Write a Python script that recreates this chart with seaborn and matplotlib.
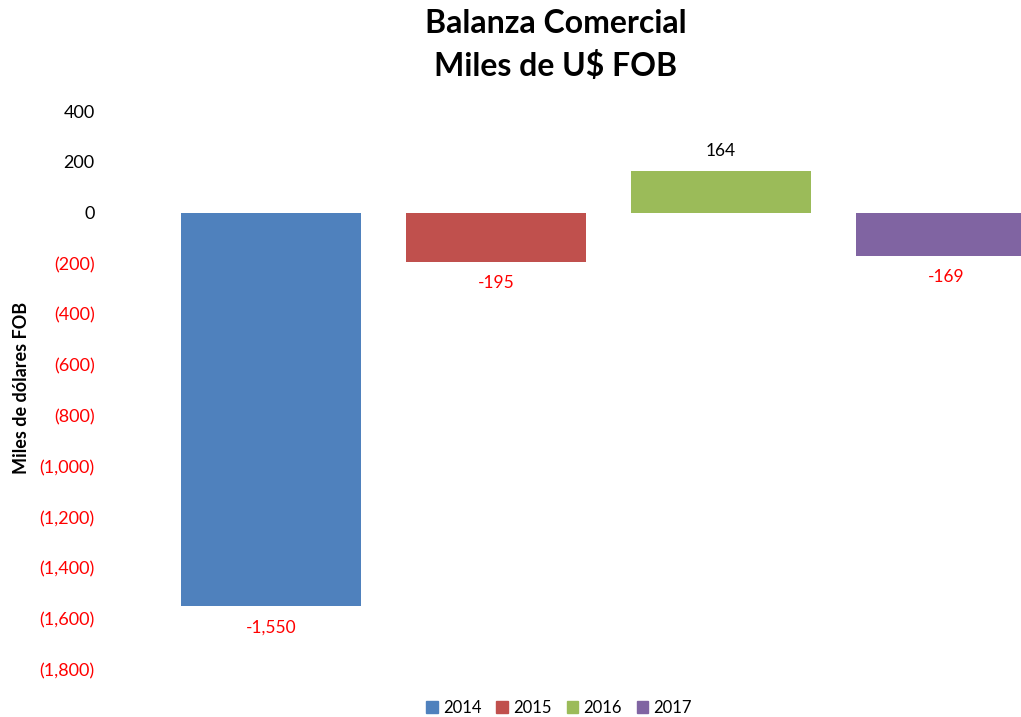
import matplotlib
matplotlib.use("Agg")
import matplotlib.pyplot as plt
import matplotlib.patches as mpatches
import seaborn as sns
import pandas as pd

years = ["2014", "2015", "2016", "2017"]
values = [-1550, -195, 164, -169]
colors = ["#4F81BD", "#C0504D", "#9BBB59", "#8064A2"]
yticks = [400, 200, 0, -200, -400, -600, -800, -1000, -1200, -1400, -1600, -1800]
title = "Balanza Comercial\nMiles de U$ FOB"
ylabel = "Miles de dólares FOB"

sns.set_theme(style="white")
plt.rcParams['font.family'] = ['Lato', 'DejaVu Sans']
plt.rcParams['text.color'] = 'black'

W, H = 1021, 717
fig = plt.figure(figsize=(W / 100, H / 100), dpi=100)
ax = fig.add_axes([158.5 / W, 1 - 670 / H, 900 / W, 559 / H])

df = pd.DataFrame({"year": years, "value": values})
sns.barplot(data=df, x="year", y="value", hue="year", palette=colors,
            legend=False, width=0.8, saturation=1, linewidth=0, ax=ax)

ax.set_xlim(-0.5, 3.5)
ax.set_ylim(-1800, 400)
ax.set_yticks(yticks)
labels = []
for t in yticks:
    labels.append(f"({abs(t):,})" if t < 0 else f"{t:,}")
ax.set_yticklabels(labels, fontsize=13)
for lab, t in zip(ax.get_yticklabels(), yticks):
    lab.set_color("red" if t < 0 else "black")
ax.tick_params(axis="y", length=0, pad=46)
ax.tick_params(axis="x", length=0, labelbottom=False)
ax.set_xlabel("")
ax.set_ylabel("")
for s in ax.spines.values():
    s.set_visible(False)

for i, v in enumerate(values):
    off = -21 if v < 0 else 20
    ax.annotate(f"{v:,}", (i, v), xytext=(0, off * 0.72), textcoords="offset points",
                ha="center", va="center", fontsize=12.5,
                color="red" if v < 0 else "black", annotation_clip=False)

fig.text(556 / W, 1 - 45 / H, title, ha="center", va="center", color="black",
         fontsize=23, fontweight="bold", linespacing=1.5)
fig.text(22 / W, 1 - 388 / H, ylabel, rotation=90, ha="center", va="center",
         fontsize=13, fontweight="bold", color="black")

handles = [mpatches.Patch(color=c, label=y) for c, y in zip(colors, years)]
fig.legend(handles=handles, loc="center", bbox_to_anchor=(559 / W, 1 - 708 / H),
           ncol=4, frameon=False, fontsize=12, handlelength=0.7, handleheight=0.7,
           handletextpad=0.3, columnspacing=0.9)

fig.savefig("out.png", dpi=100)
